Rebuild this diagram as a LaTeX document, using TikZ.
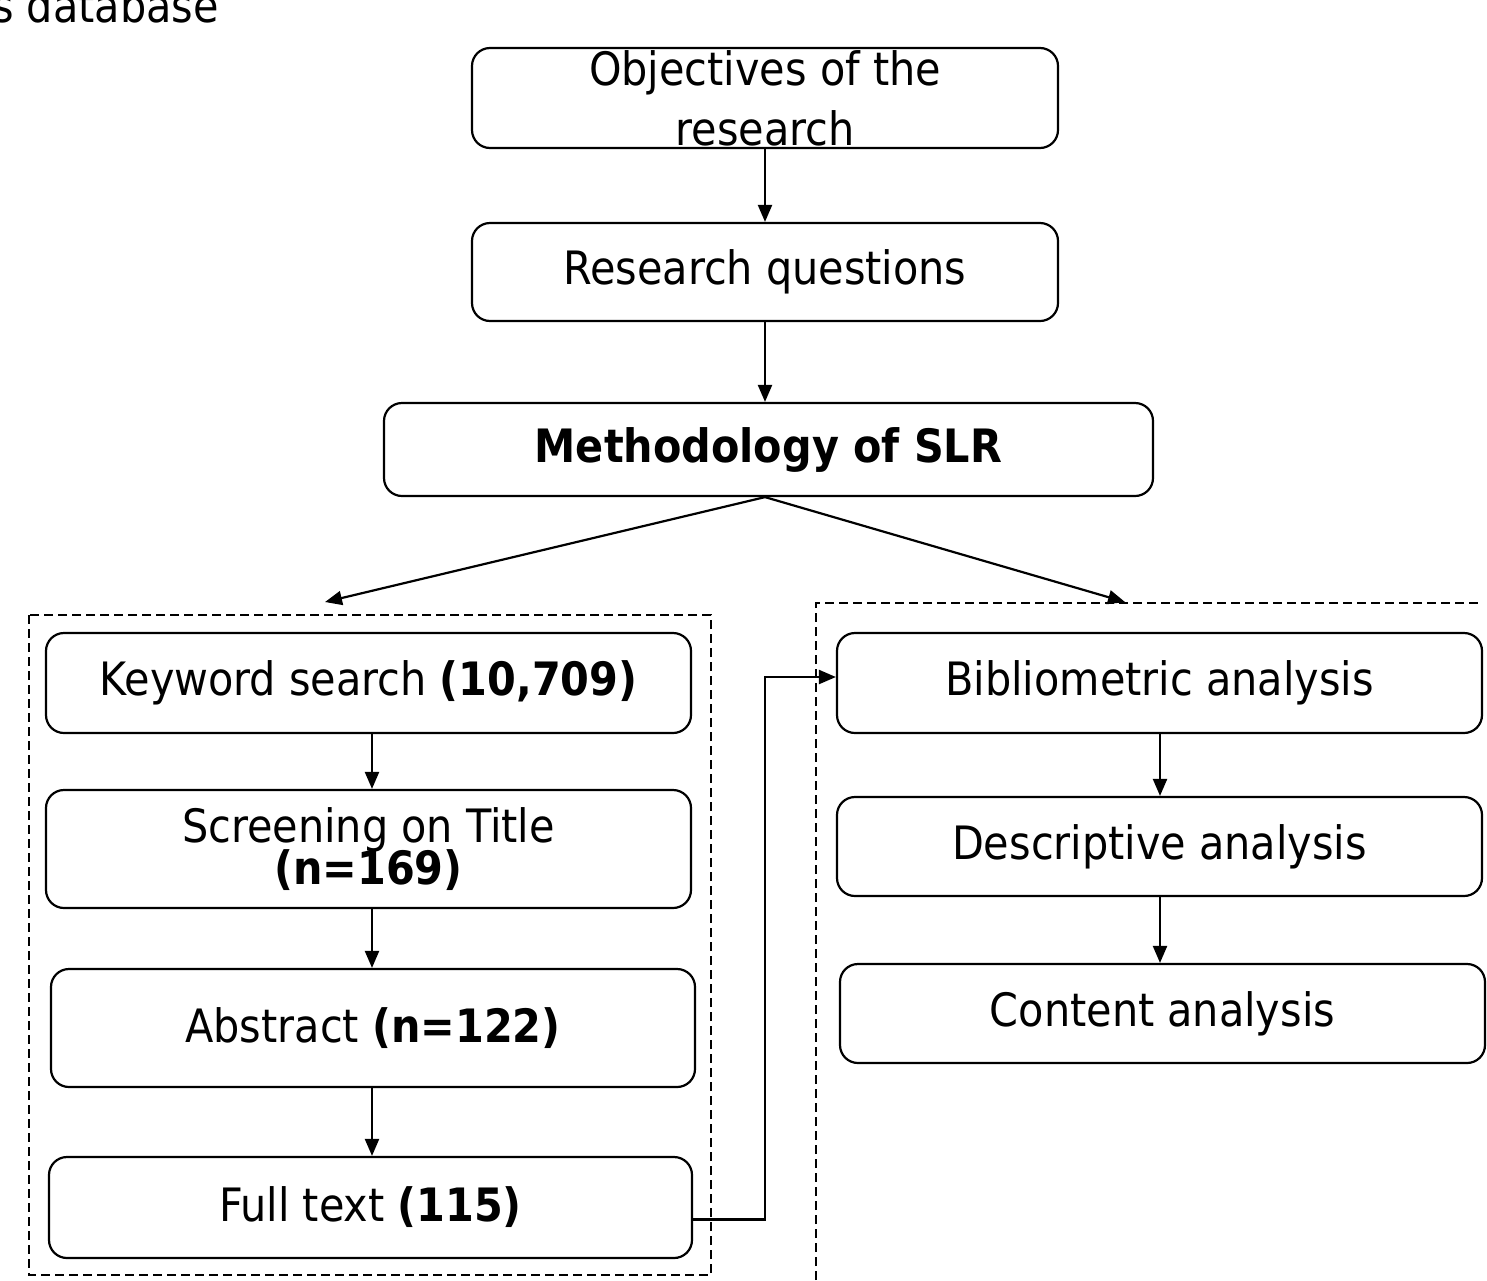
\documentclass[tikz,border=0pt]{standalone}
\usepackage{fontspec}
\setmainfont{DejaVu Sans Condensed}
\usetikzlibrary{arrows.meta, positioning}

\begin{document}
\begin{tikzpicture}[
        x=1pt, y=-1pt,
        procbox/.style={rectangle, draw, line width=2.2pt, rounded corners=18pt, align=center,
                        font=\fontsize{46}{52}\selectfont, inner sep=0pt},
        group/.style={draw, line width=1.6pt, dash pattern=on 9pt off 5pt},
        arrow/.style={draw, line width=2.2pt, -{Triangle[length=17pt, width=14pt]}}
    ]
    \useasboundingbox (0,0) rectangle (1487,1280);

    % cut-off caption at the top
    \node[anchor=base west, inner sep=0pt, font=\fontsize{46}{52}\selectfont] (caption) at (-8,22) {s database};

    % upper chain
    \node[procbox, minimum width=586pt, minimum height=100pt] (obj) at (765,98)
        {Objectives of the\\[8pt]research};
    \node[procbox, minimum width=586pt, minimum height=98pt] (rq) at (765,272) {Research questions};
    \node[procbox, minimum width=769pt, minimum height=93pt] (meth) at (768.5,449.5)
        {\textbf{Methodology of SLR}};

    % dashed groups
    \draw[group] (29,615) rectangle (711,1275);
    \draw[group] (816,1280) -- (816,603) -- (1480,603);

    % left group
    \node[procbox, minimum width=645pt, minimum height=100pt] (kw) at (368.5,683)
        {Keyword search \textbf{(10,709)}};
    \node[procbox, minimum width=645pt, minimum height=118pt] (scr) at (368.5,849)
        {Screening on Title\\[-10pt]\textbf{(n=169)}};
    \node[procbox, minimum width=644pt, minimum height=118pt] (abs) at (373,1028)
        {Abstract \textbf{(n=122)}};
    \node[procbox, minimum width=643pt, minimum height=101pt] (full) at (370.5,1207.5)
        {Full text \textbf{(115)}};

    % right group
    \node[procbox, minimum width=645pt, minimum height=100pt] (bib) at (1159.5,683)
        {Bibliometric analysis};
    \node[procbox, minimum width=645pt, minimum height=99pt] (desc) at (1159.5,846.5)
        {Descriptive analysis};
    \node[procbox, minimum width=645pt, minimum height=99pt] (cont) at (1162.5,1013.5)
        {Content analysis};

    % arrow ends on the dashed groups
    \coordinate (ltip) at (325,602);
    \coordinate (rtip) at (1125,602);

    % connectors
    \draw[arrow] (obj) -- (rq);
    \draw[arrow] (rq.south) -- (rq.south |- meth.north);
    \draw[arrow] (rq.south |- meth.south) -- (ltip);
    \draw[arrow] (rq.south |- meth.south) -- (rtip);
    \draw[arrow] (kw.south -| 372,0) -- (scr.north -| 372,0);
    \draw[arrow] (scr.south -| 372,0) -- (abs.north -| 372,0);
    \draw[arrow] (abs.south -| 372,0) -- (full.north -| 372,0);
    \draw[arrow] ([yshift=-12pt]full.east) -- ++(72,0) |- ([yshift=6pt]bib.west);
    \draw[arrow] (bib.south -| 1160,0) -- (desc.north -| 1160,0);
    \draw[arrow] (desc.south -| 1160,0) -- (cont.north -| 1160,0);

\end{tikzpicture}
\end{document}
